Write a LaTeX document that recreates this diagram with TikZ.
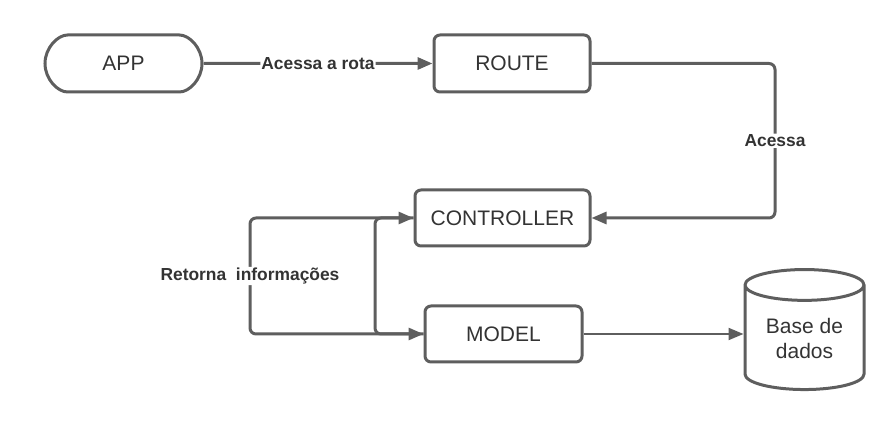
\documentclass[tikz,border=0pt]{standalone}
\usepackage{fontspec}
\setmainfont{Liberation Sans}
\usetikzlibrary{arrows.meta,shapes.misc,shapes.geometric}
\definecolor{linegray}{HTML}{5E5E5E}
\definecolor{textgray}{HTML}{333333}
\tikzset{
  box/.style={draw=linegray, line width=3pt, rounded corners=6pt, text=textgray,
    font=\fontsize{21}{25}\selectfont, inner sep=0pt},
  lbl/.style={fill=white, text=textgray, font=\bfseries\fontsize{17.4}{20}\selectfont, inner sep=1pt},
  arr/.style={draw=linegray, line width=3pt, rounded corners=6pt,
    -{Triangle[length=15pt,width=12pt]}}
}
\begin{document}
\begin{tikzpicture}[x=1pt,y=-1pt]
      \useasboundingbox (0,0) rectangle (887,443);
      \node[box, rounded rectangle, minimum width=157pt, minimum height=57pt] (app) at (123.5,63.5) {APP};
      \node[box, minimum width=156pt, minimum height=57pt] (route) at (512,63.5) {ROUTE};
      \node[box, minimum width=175pt, minimum height=56pt] (controller) at (502.5,218) {CONTROLLER};
      \node[box, minimum width=157pt, minimum height=56pt] (model) at (503.5,334) {MODEL};
      \node[box, sharp corners, cylinder, shape border rotate=90, aspect=0.4, minimum width=119pt,
        minimum height=120pt, align=center] (db) at (804.5,338) {Base de\\dados};
      \coordinate (bend) at (775,63.5);
      \coordinate (inner) at (375,218);
      \coordinate (outer) at (250,334);
      \draw[arr] (app) -- node[lbl]{Acessa a rota} (route);
      \draw[arr] (route.east) -- (bend) |- node[lbl, pos=0.25]{Acessa} (controller.east);
      \draw[arr] (controller.west) -- (inner) |- (model.west);
      \draw[arr] (model.west) -- (outer) |- node[lbl, pos=0.25]{Retorna\ \ informações} (controller.west);
      \draw[arr, line width=2pt] (model.east) -- (model.east -| db.west);
    \end{tikzpicture}
\end{document}
